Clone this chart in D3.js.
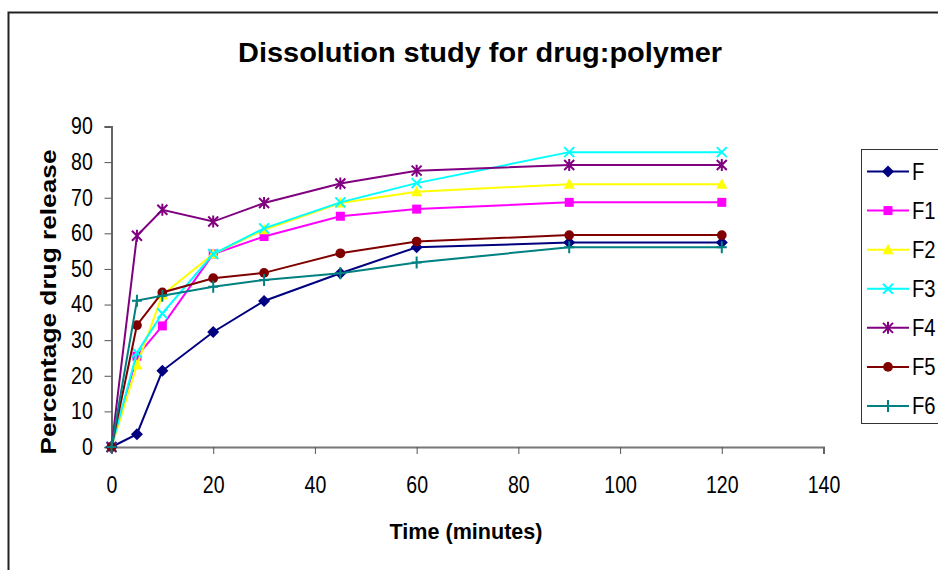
<!DOCTYPE html>
<html>
<head>
<meta charset="utf-8">
<script src="https://cdn.jsdelivr.net/npm/d3@7"></script>
<style>
    body { margin: 0; background: #fff; }
    text { font-family: "Liberation Sans", Arial, sans-serif; }
</style>
</head>
<body>
<div id="chart"></div>
<script>
// sampling times (minutes)
var times = [0, 5, 10, 20, 30, 45, 60, 90, 120];

// percentage drug release per formulation
var seriesNames = ["F", "F1", "F2", "F3", "F4", "F5", "F6"];
var valuesF  = [0, 3.6, 21.4, 32.3, 41.0, 48.8, 56.1, 57.4, 57.4];
var valuesF1 = [0, 25.5, 34.0, 54.2, 59.1, 64.8, 66.8, 68.7, 68.7];
var valuesF2 = [0, 23.0, 42.7, 54.2, 61.0, 68.5, 71.7, 73.8, 73.8];
var valuesF3 = [0, 26.5, 37.5, 54.2, 61.4, 68.7, 74.1, 82.8, 82.8];
var valuesF4 = [0, 59.3, 66.6, 63.3, 68.5, 74.0, 77.6, 79.2, 79.2];
var valuesF5 = [0, 34.2, 43.4, 47.4, 48.9, 54.4, 57.7, 59.5, 59.5];
var valuesF6 = [0, 41.1, 42.5, 45.0, 46.9, 48.8, 51.8, 56.1, 56.1];

var xTicks = [0, 20, 40, 60, 80, 100, 120, 140];
var yTicks = [0, 10, 20, 30, 40, 50, 60, 70, 80, 90];

var title = "Dissolution study for drug:polymer",
    xTitle = "Time (minutes)",
    yTitle = "Percentage drug release";

var colors = ["#000080", "#ff00ff", "#ffff00", "#00ffff", "#800080", "#800000", "#008080"],
    markers = ["diamond", "square", "triangle", "cross", "star", "circle", "plus"];

var allValues = [valuesF, valuesF1, valuesF2, valuesF3, valuesF4, valuesF5, valuesF6];

var width = 938,
    height = 570;

var svg = d3.select("#chart")
    .append("svg")
    .attr("width", width)
    .attr("height", height);

// outer chart border (runs off the right and bottom)
svg.append("rect")
    .attr("x", 8.5)
    .attr("y", 12.5)
    .attr("width", 960)
    .attr("height", 600)
    .attr("fill", "none")
    .attr("stroke", "#222")
    .attr("stroke-width", 2);

var xScale = d3.scaleLinear().domain([0, 140]).range([111.5, 823.5]),
    yScale = d3.scaleLinear().domain([0, 90]).range([447, 126.5]);

// axes
var xAxis = d3.axisBottom(xScale).tickValues(xTicks).tickSize(7).tickPadding(23),
    yAxis = d3.axisLeft(yScale).tickValues(yTicks).tickSize(7).tickPadding(15);

var gx = svg.append("g")
    .attr("transform", "translate(0," + yScale(0) + ")")
    .call(xAxis);

var gy = svg.append("g")
    .attr("transform", "translate(" + xScale(0) + ",0)")
    .call(yAxis);

[gx, gy].forEach(function (g) {
    g.select(".domain").attr("stroke", "#777").attr("stroke-width", 2);
    g.selectAll(".tick line").attr("stroke", "#555").attr("stroke-width", 1);
    // narrow, tall digits like the original
    g.selectAll(".tick text")
        .attr("fill", "#000")
        .attr("transform", "scale(0.85,1)")
        .style("font-size", "23px")
        .style("font-family", "'Liberation Sans', Arial, sans-serif");
});
gy.select(".domain").attr("stroke", "#666");

// symbol path generators
var symbolPath = function (type) {
    var s = 5;
    switch (type) {
        case "diamond":
            return "M0,-6L6,0L0,6L-6,0Z";
        case "square":
            return "M-4.5,-4.5H4.5V4.5H-4.5Z";
        case "triangle":
            return "M0,-6L5.5,4.5H-5.5Z";
        case "circle":
            return d3.symbol().type(d3.symbolCircle).size(75)();
        case "cross":
            return "M-" + s + ",-" + s + "L" + s + "," + s + "M" + s + ",-" + s + "L-" + s + "," + s;
        case "star":
            return "M-" + s + ",-" + s + "L" + s + "," + s + "M" + s + ",-" + s + "L-" + s + "," + s + "M0,-6V6";
        case "plus":
            return "M-5,0H5M0,-6V6";
    }
};
var isStroked = function (type) {
    return type === "cross" || type === "star" || type === "plus";
};

var line = d3.line()
    .x(function (d) { return xScale(d[0]); })
    .y(function (d) { return yScale(d[1]); });

allValues.forEach(function (vals, i) {
    var pts = times.map(function (t, j) { return [t, vals[j]]; });
    var g = svg.append("g").attr("class", "series");

    g.append("path")
        .datum(pts)
        .attr("d", line)
        .attr("fill", "none")
        .attr("stroke", colors[i])
        .attr("stroke-width", 2);

    g.selectAll("path.mark")
        .data(pts)
        .enter()
        .append("path")
        .attr("class", "mark")
        .attr("transform", function (d) { return "translate(" + xScale(d[0]) + "," + yScale(d[1]) + ")"; })
        .attr("d", symbolPath(markers[i]))
        .attr("fill", isStroked(markers[i]) ? "none" : colors[i])
        .attr("stroke", colors[i])
        .attr("stroke-width", isStroked(markers[i]) ? 2 : 0);
});

// titles
svg.append("text")
    .attr("x", 480)
    .attr("y", 62)
    .attr("text-anchor", "middle")
    .attr("textLength", 484)
    .attr("lengthAdjust", "spacingAndGlyphs")
    .style("font-size", "27px")
    .style("font-weight", "bold")
    .text(title);

svg.append("text")
    .attr("x", 466)
    .attr("y", 539)
    .attr("text-anchor", "middle")
    .attr("textLength", 153)
    .attr("lengthAdjust", "spacingAndGlyphs")
    .style("font-size", "22px")
    .style("font-weight", "bold")
    .text(xTitle);

svg.append("text")
    .attr("transform", "translate(56,302) rotate(-90)")
    .attr("text-anchor", "middle")
    .attr("textLength", 305)
    .attr("lengthAdjust", "spacingAndGlyphs")
    .style("font-size", "22px")
    .style("font-weight", "bold")
    .text(yTitle);

// legend
var legend = svg.append("g");

legend.append("rect")
    .attr("x", 861.5)
    .attr("y", 149.5)
    .attr("width", 120)
    .attr("height", 274)
    .attr("fill", "#fff")
    .attr("stroke", "#333")
    .attr("stroke-width", 1);

var legendY = d3.scalePoint().domain(seriesNames).range([171.5, 406]);

var item = legend.selectAll("g.item")
    .data(seriesNames)
    .enter()
    .append("g")
    .attr("class", "item")
    .attr("transform", function (d) { return "translate(0," + legendY(d) + ")"; });

item.append("line")
    .attr("x1", 867)
    .attr("x2", 909)
    .attr("stroke", function (d, i) { return colors[i]; })
    .attr("stroke-width", 2);

item.append("path")
    .attr("transform", "translate(888,0)")
    .attr("d", function (d, i) { return symbolPath(markers[i]); })
    .attr("fill", function (d, i) { return isStroked(markers[i]) ? "none" : colors[i]; })
    .attr("stroke", function (d, i) { return colors[i]; })
    .attr("stroke-width", function (d, i) { return isStroked(markers[i]) ? 2 : 0; });

item.append("text")
    .attr("transform", "translate(912,8) scale(0.88,1)")
    .style("font-size", "23px")
    .text(function (d) { return d; });
</script>
</body>
</html>
